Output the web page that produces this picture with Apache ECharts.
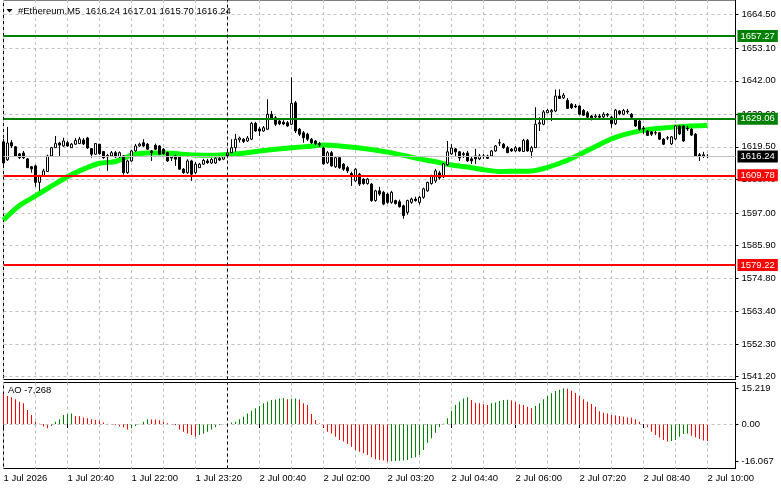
<!DOCTYPE html>
<html>
<head>
<meta charset="utf-8">
<script src="https://cdn.jsdelivr.net/npm/echarts@6/dist/echarts.min.js"></script>
<style>
  html, body { margin: 0; padding: 0; background: #fff; }
  #chart { width: 781px; height: 489px; }
</style>
</head>
<body>
<div id="chart"></div>
<script>
// ETHUSD M5, 177 bars from 1 Jul 19:20 to 2 Jul 10:00 (+7 empty slots of chart shift)
const opens = [
  1621.2,1615.1,1620.9,1619.5,1617.1,1617.4,1615.4,1612.7,1613.0,1607.4,
  1609.6,1611.1,1616.4,1619.2,1620.8,1619.8,1620.9,1619.2,1620.4,1620.6,
  1621.8,1622.5,1618.9,1617.0,1620.4,1617.9,1616.1,1616.4,1617.5,1616.1,
  1616.4,1610.7,1614.7,1618.1,1619.8,1620.9,1620.4,1618.1,1620.0,1619.8,
  1618.7,1617.5,1616.1,1616.4,1616.1,1611.9,1610.7,1614.7,1610.7,1612.4,
  1613.6,1614.7,1614.0,1614.0,1615.6,1615.3,1616.2,1617.5,1619.2,1621.9,
  1622.1,1621.5,1622.1,1627.5,1625.6,1624.9,1625.5,1630.6,1629.4,1628.3,
  1627.9,1627.7,1627.2,1634.5,1625.5,1624.3,1623.8,1622.1,1621.5,1620.6,
  1619.1,1614.1,1617.5,1612.7,1615.8,1613.6,1612.4,1610.4,1607.9,1610.2,
  1608.5,1607.0,1606.8,1601.2,1604.5,1604.0,1603.4,1600.6,1601.2,1600.8,
  1599.4,1597.2,1600.6,1601.7,1600.6,1602.3,1604.5,1607.0,1607.9,1610.6,
  1609.3,1613.4,1617.1,1618.8,1617.8,1616.8,1617.4,1615.4,1616.4,1615.4,
  1616.4,1616.4,1616.4,1618.1,1620.8,1620.4,1619.2,1618.7,1618.1,1619.1,
  1617.9,1621.7,1617.8,1619.2,1627.3,1627.2,1631.1,1631.4,1631.7,1636.8,
  1636.2,1635.3,1634.0,1633.4,1633.4,1631.9,1631.1,1630.0,1629.7,1630.0,
  1629.7,1630.6,1629.6,1627.4,1631.7,1630.6,1631.7,1630.6,1628.9,1628.3,
  1625.9,1624.9,1624.6,1624.3,1624.3,1622.1,1622.5,1620.5,1622.2,1626.6,
  1626.6,1625.9,1625.5,1623.8,1616.8,1616.4,1616.24
];
const closes = [
  1614.0,1620.8,1619.8,1616.4,1615.8,1615.7,1612.4,1612.0,1607.4,1609.6,
  1611.3,1616.4,1619.2,1620.6,1620.1,1621.5,1619.8,1620.4,1621.7,1622.1,
  1620.5,1619.1,1617.0,1620.6,1617.2,1615.8,1616.6,1617.5,1616.1,1617.5,
  1610.7,1614.7,1618.1,1619.8,1620.4,1619.8,1618.7,1617.5,1618.7,1617.0,
  1617.2,1614.7,1615.7,1615.3,1611.9,1610.7,1614.7,1610.2,1613.6,1613.6,
  1614.9,1614.1,1615.2,1615.6,1615.0,1616.1,1617.4,1619.2,1622.1,1622.5,
  1621.3,1622.5,1627.5,1624.9,1624.9,1626.0,1630.6,1629.2,1627.2,1627.4,
  1627.3,1626.6,1634.3,1624.9,1623.8,1622.6,1622.1,1620.9,1620.6,1620.2,
  1613.7,1617.5,1613.0,1615.8,1612.4,1611.9,1611.3,1609.6,1611.9,1606.8,
  1607.0,1608.5,1601.2,1604.5,1603.4,1600.0,1600.6,1604.0,1600.2,1599.1,
  1596.1,1601.2,1601.7,1601.2,1602.3,1605.2,1607.4,1609.6,1611.3,1608.9,
  1613.7,1617.8,1619.1,1617.8,1615.7,1617.2,1614.7,1614.7,1615.4,1616.4,
  1616.1,1615.6,1618.1,1619.8,1620.9,1619.2,1617.5,1618.1,1619.2,1618.1,
  1621.7,1618.1,1619.2,1627.2,1627.7,1631.4,1631.9,1631.9,1636.8,1636.0,
  1637.1,1632.6,1632.8,1633.1,1630.6,1630.3,1629.6,1629.4,1630.0,1629.6,
  1630.6,1630.3,1627.4,1632.0,1630.8,1631.9,1631.4,1629.6,1626.6,1625.5,
  1625.6,1623.4,1623.8,1624.2,1622.1,1620.4,1622.6,1622.9,1626.6,1623.9,
  1621.5,1625.6,1623.5,1616.4,1616.4,1616.8,1616.24
];
const lows = [
  1613.0,1614.7,1619.1,1616.1,1615.4,1615.4,1612.3,1610.7,1605.9,1604.5,
  1609.3,1611.0,1616.1,1619.1,1616.4,1619.5,1619.5,1619.1,1620.1,1620.5,
  1620.1,1618.8,1615.8,1616.8,1616.8,1615.4,1611.3,1616.1,1615.7,1615.7,
  1610.0,1610.3,1614.4,1617.8,1619.5,1619.5,1618.4,1614.7,1618.4,1616.8,
  1616.8,1614.4,1614.7,1613.0,1611.7,1610.3,1610.3,1607.9,1610.3,1612.3,
  1613.4,1613.7,1613.7,1613.7,1614.7,1615.0,1615.9,1617.4,1617.8,1621.0,
  1620.8,1621.2,1621.8,1624.6,1623.2,1624.6,1625.2,1629.0,1626.6,1626.9,
  1626.9,1626.3,1626.9,1624.2,1623.2,1620.9,1621.5,1620.5,1620.1,1619.5,
  1613.4,1613.7,1612.7,1612.3,1612.0,1611.3,1610.6,1606.2,1607.6,1606.2,
  1606.6,1606.6,1600.8,1600.8,1602.8,1599.6,1600.1,1600.1,1599.8,1598.8,
  1595.0,1596.4,1600.1,1600.8,1599.8,1601.8,1604.2,1606.6,1607.2,1608.3,
  1608.9,1613.0,1616.8,1616.4,1614.7,1615.7,1614.4,1613.7,1613.7,1615.0,
  1615.4,1615.4,1616.1,1617.8,1619.8,1618.8,1617.4,1617.8,1617.8,1617.8,
  1617.8,1617.8,1615.8,1619.1,1624.9,1626.9,1631.0,1628.3,1631.3,1635.8,
  1635.8,1632.4,1632.4,1632.7,1630.3,1630.0,1629.3,1628.5,1629.0,1629.0,
  1629.3,1629.6,1626.0,1626.9,1630.3,1630.3,1630.7,1629.3,1626.3,1624.9,
  1623.9,1623.2,1623.2,1623.5,1621.8,1620.1,1621.8,1620.1,1621.8,1623.5,
  1621.2,1624.9,1623.2,1616.1,1614.7,1615.7,1615.70
];
const highs = [
  1622.2,1626.3,1621.8,1619.8,1617.4,1618.1,1615.7,1613.0,1613.4,1610.0,
  1612.0,1616.8,1619.5,1623.2,1621.2,1622.6,1621.5,1620.8,1622.5,1622.9,
  1622.5,1622.9,1619.1,1620.8,1620.5,1618.1,1617.1,1618.1,1618.1,1617.9,
  1616.7,1615.1,1618.5,1620.5,1620.9,1622.1,1620.8,1618.4,1620.6,1620.1,
  1619.1,1617.8,1616.4,1616.8,1616.4,1612.3,1615.3,1615.1,1614.4,1614.0,
  1615.4,1615.4,1615.7,1616.1,1616.1,1616.4,1618.1,1622.1,1623.9,1623.0,
  1622.5,1623.2,1628.0,1628.0,1626.3,1626.6,1635.7,1631.7,1630.0,1629.0,
  1628.6,1628.3,1643.2,1635.1,1625.9,1624.9,1624.3,1622.5,1621.8,1621.2,
  1619.5,1618.1,1618.1,1616.4,1616.4,1614.0,1613.0,1611.0,1612.3,1610.6,
  1608.9,1608.9,1607.2,1604.9,1605.9,1604.5,1603.9,1604.5,1601.5,1601.5,
  1599.8,1601.5,1602.2,1602.5,1602.8,1605.6,1607.6,1610.0,1612.0,1611.3,
  1614.0,1621.5,1620.5,1619.1,1618.1,1617.8,1618.1,1616.1,1618.8,1617.1,
  1617.1,1616.8,1618.4,1620.1,1622.1,1620.8,1619.8,1619.1,1619.8,1619.5,
  1622.2,1622.2,1619.8,1633.0,1629.6,1632.0,1632.4,1632.4,1639.0,1639.1,
  1637.8,1636.1,1634.4,1634.1,1633.7,1632.4,1631.7,1630.3,1630.7,1630.7,
  1631.3,1631.0,1630.0,1632.4,1632.0,1632.4,1632.4,1631.0,1629.3,1628.6,
  1626.6,1625.2,1624.9,1624.9,1624.6,1622.5,1623.2,1623.2,1626.9,1626.9,
  1626.9,1626.6,1625.9,1624.2,1617.4,1617.8,1617.01
];
// moving average, read every 4th bar
const maStep = 4;
const maValues = [
  1594.6,1599.5,1602.8,1606.1,1609.3,1611.9,1613.9,1614.5,1616.7,1617.4,
  1617.4,1617.1,1616.7,1616.6,1616.9,1617.3,1618.1,1618.7,1619.2,1619.6,
  1620.1,1619.8,1619.3,1618.6,1617.7,1616.6,1615.4,1614.4,1613.3,1612.6,
  1611.7,1611.1,1611.2,1611.3,1612.5,1614.4,1616.9,1619.6,1622.2,1624.0,
  1625.1,1625.8,1626.3,1626.6,1626.8
];
// Awesome Oscillator
const aoValues = [
  12.8,11.9,11.4,10.5,9.5,8.8,6.0,3.8,1.0,0.1,
  -1.1,-1.8,-0.9,1.0,2.0,3.8,4.3,4.5,3.4,3.3,
  2.8,2.4,2.0,1.7,1.4,0.6,0.1,-0.1,-0.3,-1.1,
  -1.4,-2.3,-1.8,-0.9,-0.1,1.0,2.0,1.95,1.9,1.6,
  1.0,0.3,-0.1,-0.4,-2.3,-3.3,-4.0,-4.7,-5.4,-4.7,
  -4.0,-3.3,-2.3,-1.4,-0.4,-0.1,0.1,0.6,1.0,2.0,
  3.1,4.5,5.7,6.7,7.7,8.8,9.5,10.2,10.4,10.9,
  11.1,10.5,10.8,10.9,10.4,8.8,8.1,4.3,1.7,0.2,
  -1.4,-3.3,-4.0,-5.4,-6.8,-7.5,-8.5,-9.7,-11.1,-11.8,
  -12.5,-13.2,-14.2,-15.0,-15.3,-15.6,-16.067,-15.9,-15.8,-15.7,
  -15.6,-15.3,-14.5,-14.2,-13.2,-11.1,-8.0,-6.1,-3.7,-1.4,
  0.1,2.4,5.7,8.1,9.5,10.9,11.4,10.2,9.1,8.8,
  8.4,8.1,8.8,9.2,9.8,10.2,10.3,10.0,9.5,8.4,
  8.1,7.4,6.7,7.7,8.8,10.5,11.9,13.1,14.1,14.6,
  15.219,15.0,14.2,13.2,11.9,10.5,9.5,8.5,7.4,5.4,
  4.8,4.5,3.8,3.6,3.4,3.1,2.8,2.7,2.0,1.0,
  -0.1,-1.4,-3.3,-4.7,-5.8,-6.8,-7.5,-7.3,-6.8,-5.4,
  -4.3,-4.0,-5.0,-5.7,-6.4,-7.0,-7.268
];
const shiftSlots = 7;
const timeLabels = ['1 Jul 2026','1 Jul 20:40','1 Jul 22:00','1 Jul 23:20','2 Jul 00:40','2 Jul 02:00',
  '2 Jul 03:20','2 Jul 04:40','2 Jul 06:00','2 Jul 07:20','2 Jul 08:40','2 Jul 10:00'];
const priceTicks = [1541.2,1552.3,1563.4,1574.8,1585.9,1597.0,1608.4,1619.5,1630.6,1642.0,1653.1,1664.5];
const aoTicks = [-16.067, 0, 15.219];
const levels = [
  { value: 1657.27, color: '#008000' },
  { value: 1629.06, color: '#008000' },
  { value: 1609.78, color: '#ff0000' },
  { value: 1579.22, color: '#ff0000' }
];
const lastBid = 1616.24;
const daySepIndex = 56;  // 2 Jul 00:00
const titleText = '#Ethereum,M5  1616.24 1617.01 1615.70 1616.24';
const aoTitle = 'AO -7,268';

const FONT = 'Liberation Sans, Arial, sans-serif';
const FS = 9.5;
const GRID_GRAY = '#c0c0c0';

const slots = [];
for (let i = 0; i < opens.length + shiftSlots; i++) slots.push(i);

const candleData = opens.map((o, i) => [o, closes[i], lows[i], highs[i]]);

const maData = opens.map(() => null);
maValues.forEach((v, k) => { maData[k * maStep] = v; });

const aoData = aoValues.map((v, i) => ({
  value: v,
  itemStyle: { color: (i > 0 && v > aoValues[i - 1]) ? '#008000' : '#ff0000' }
}));

const levelLines = levels.map(l => ({
  yAxis: l.value,
  lineStyle: { color: l.color, width: 2, type: 'solid' },
  label: { backgroundColor: l.color }
}));
levelLines.splice(2, 0, {
  yAxis: lastBid,
  lineStyle: { color: GRID_GRAY, width: 1, type: 'solid' },
  label: { backgroundColor: '#000' }
});
levelLines.push({
  xAxis: daySepIndex,
  lineStyle: { color: '#000', width: 1, type: [3, 3] },
  label: { show: false }
});

const chart = echarts.init(document.getElementById('chart'), null, { renderer: 'canvas' });

const catAxis = (grid, withLabels) => ({
  type: 'category',
  gridIndex: grid,
  data: slots,
  boundaryGap: false,
  axisLine: { show: false },
  axisTick: withLabels
    ? { show: true, interval: 15, length: 4, lineStyle: { color: '#000' } }
    : { show: false },
  axisLabel: withLabels ? {
    show: true,
    interval: 15,
    align: 'left',
    margin: 5,
    color: '#000',
    fontFamily: FONT,
    fontSize: FS,
    formatter: (v, idx) => timeLabels[idx / 16] || ''
  } : { show: false },
  splitLine: { show: true, interval: 7, lineStyle: { color: GRID_GRAY, type: [3, 3], width: 1 } }
});

chart.setOption({
  animation: false,
  backgroundColor: '#fff',
  grid: [
    { left: 3.5, width: 732, top: -1.5, height: 381, show: true, borderColor: '#000', borderWidth: 1 },
    { left: 3.5, width: 732, top: 382.5, height: 86, show: true, borderColor: '#000', borderWidth: 1 }
  ],
  xAxis: [catAxis(0, false), catAxis(1, true)],
  yAxis: [
    {
      type: 'value', gridIndex: 0, position: 'right',
      min: 1540.24, max: 1669.52,
      axisLine: { show: true, lineStyle: { color: '#000' } },
      axisTick: { show: true, length: 3, customValues: priceTicks, lineStyle: { color: '#000' } },
      axisLabel: {
        customValues: priceTicks, margin: 6, color: '#000', fontFamily: FONT, fontSize: FS,
        formatter: v => v.toFixed(2)
      },
      splitLine: { show: true, lineStyle: { color: GRID_GRAY, type: [3, 3], width: 1 } }
    },
    {
      type: 'value', gridIndex: 1, position: 'right',
      min: -18.97, max: 17.69,
      axisLine: { show: true, lineStyle: { color: '#000' } },
      axisTick: { show: true, length: 3, customValues: aoTicks, lineStyle: { color: '#000' } },
      axisLabel: {
        customValues: aoTicks, margin: 6, color: '#000', fontFamily: FONT, fontSize: FS,
        formatter: v => (v === 0 ? '0.00' : v.toFixed(3))
      },
      splitLine: { show: false }
    }
  ],
  series: [
    {
      type: 'line',
      xAxisIndex: 0, yAxisIndex: 0,
      data: maData,
      connectNulls: true,
      smooth: 0.3,
      symbol: 'none',
      lineStyle: { color: '#00ff00', width: 5 },
      z: 2,
      silent: true
    },
    {
      type: 'candlestick',
      xAxisIndex: 0, yAxisIndex: 0,
      data: candleData,
      barWidth: 3,
      itemStyle: {
        color: '#ffffff', color0: '#000000',
        borderColor: '#000000', borderColor0: '#000000', borderWidth: 1
      },
      z: 3,
      markLine: {
        silent: true,
        symbol: ['none', 'none'],
        precision: 2,
        label: {
          show: true, position: 'end', distance: 2,
          color: '#fff', fontFamily: FONT, fontSize: FS,
          padding: [1, 3, 1, 3],
          formatter: p => p.value.toFixed(2)
        },
        data: levelLines
      }
    },
    {
      type: 'bar',
      xAxisIndex: 1, yAxisIndex: 1,
      data: aoData,
      barWidth: 1,
      silent: true,
      markLine: {
        silent: true,
        symbol: ['none', 'none'],
        label: { show: false },
        data: [
          { yAxis: 0, lineStyle: { color: GRID_GRAY, type: [3, 3], width: 1 } },
          { xAxis: daySepIndex, lineStyle: { color: '#000', type: [3, 3], width: 1 } }
        ]
      }
    }
  ],
  graphic: [
    {
      type: 'polygon',
      shape: { points: [[6.5, 9], [12.5, 9], [9.5, 12.5]] },
      style: { fill: '#000' }
    },
    {
      type: 'text', x: 18, y: 11,
      style: { text: titleText, font: FS + 'px ' + FONT, fill: '#000', verticalAlign: 'middle' }
    },
    {
      type: 'text', x: 8, y: 390.5,
      style: { text: aoTitle, font: FS + 'px ' + FONT, fill: '#000', verticalAlign: 'middle' }
    }
  ]
});
</script>
</body>
</html>
